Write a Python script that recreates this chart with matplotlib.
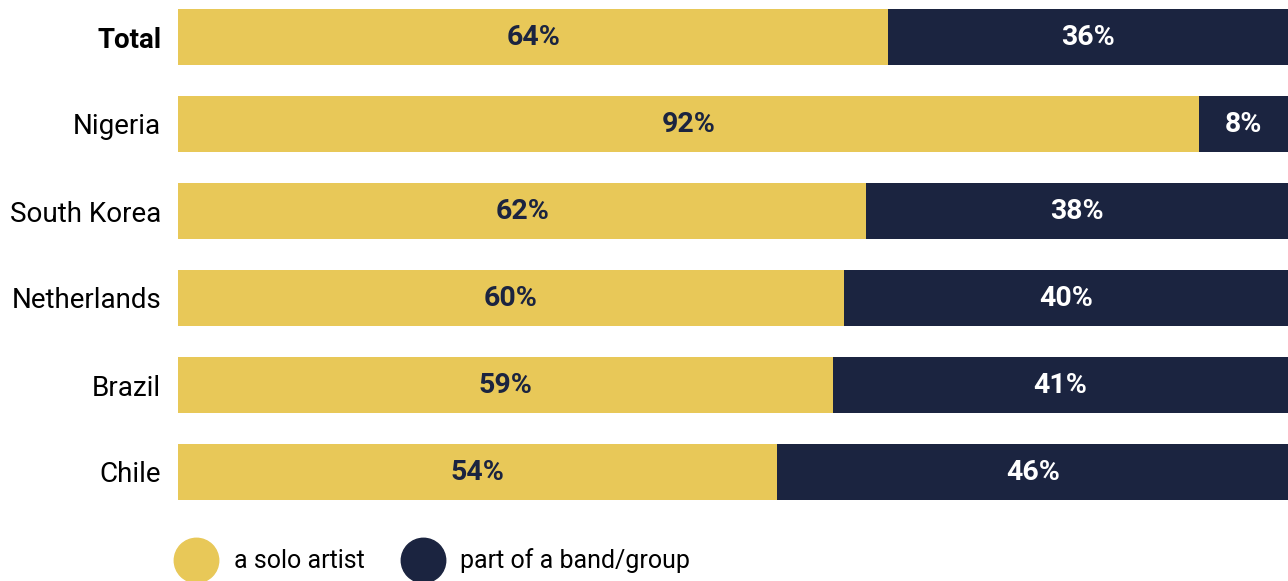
import matplotlib.pyplot as plt
from matplotlib.lines import Line2D

plt.rcParams['font.family'] = ['Roboto', 'DejaVu Sans']

# data
countries = ['Total', 'Nigeria', 'South Korea', 'Netherlands', 'Brazil', 'Chile']
solo = [64, 92, 62, 60, 59, 54]
band = [36, 8, 38, 40, 41, 46]
series_names = ['a solo artist', 'part of a band/group']

yellow = '#E8C858'
navy = '#1B2440'

fig = plt.figure(figsize=(12.88, 5.81), dpi=100)
ax = fig.add_axes([178 / 1288, 1 - 510 / 581, 1 - 178 / 1288, 510 / 581])

ypos = list(range(len(countries)))
h = 56 / 87
ax.barh(ypos, solo, height=h, color=yellow)
ax.barh(ypos, band, left=solo, height=h, color=navy)

for i in ypos:
    ax.text(solo[i] / 2, i + 0.01, f'{solo[i]}%', ha='center', va='center',
            fontsize=20.5, fontweight='bold', color=navy)
    ax.text(solo[i] + band[i] / 2, i + 0.01, f'{band[i]}%', ha='center', va='center',
            fontsize=20.5, fontweight='bold', color='white')

ax.set_xlim(0, 100)
ax.set_ylim((510 - 37) / 87, -37 / 87)
ax.set_yticks(ypos)
ax.set_yticklabels(countries, fontsize=20)
ax.get_yticklabels()[0].set_fontweight('bold')
ax.tick_params(axis='y', length=0, pad=12)
ax.set_xticks([])
for s in ax.spines.values():
    s.set_visible(False)

handles = [Line2D([], [], marker='o', linestyle='', markersize=32, color=yellow),
           Line2D([], [], marker='o', linestyle='', markersize=32, color=navy)]
fig.legend(handles, series_names, ncol=2, frameon=False, fontsize=18,
           loc='center left', bbox_to_anchor=(181 / 1288, 1 - 561 / 581),
           handlelength=1.2, handletextpad=0.9, columnspacing=1.75,
           borderaxespad=0, borderpad=0)

fig.savefig('out.png', dpi=100)
